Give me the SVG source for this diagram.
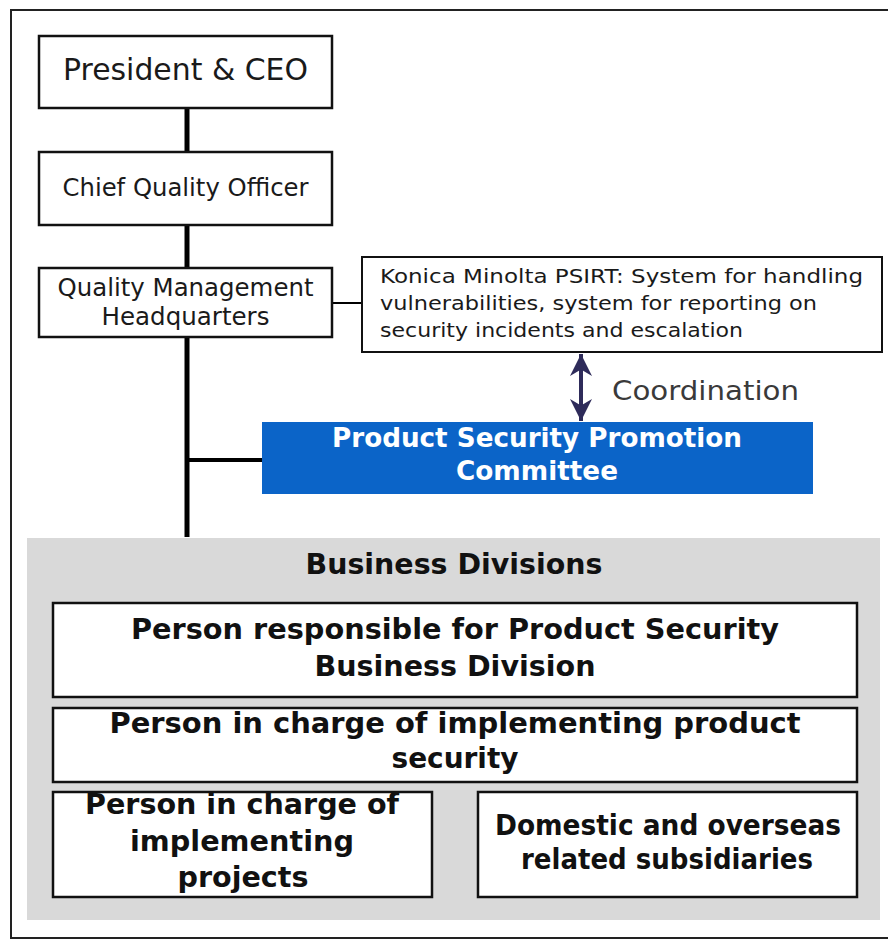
<svg xmlns="http://www.w3.org/2000/svg" width="888" height="940" viewBox="0 0 888 940">
  <defs>
    <style>
      .box { fill: #ffffff; stroke: #111111; stroke-width: 2.5; }
      .thin { fill: #ffffff; stroke: #111111; stroke-width: 2; }
      .t { font-family: "DejaVu Sans", Verdana, sans-serif; fill: #1a1a1a; text-anchor: middle; }
      .tl { font-family: "DejaVu Sans", Verdana, sans-serif; fill: #1a1a1a; font-size: 20px; }
      .b { font-family: "DejaVu Sans", Verdana, sans-serif; font-weight: bold; fill: #111111; text-anchor: middle; font-size: 27.5px; }
      .w { font-family: "DejaVu Sans", Verdana, sans-serif; font-weight: bold; fill: #ffffff; text-anchor: middle; font-size: 26.5px; }
      .line { stroke: #000000; fill: none; }
    </style>
    <marker id="ah" viewBox="0 0 10 10" refX="10" refY="5" markerWidth="5.5" markerHeight="5.5" orient="auto-start-reverse" markerUnits="strokeWidth">
      <path d="M0,0 L10,5 L0,10 L3,5 Z" fill="#2e2b5a"/>
    </marker>
  </defs>

  <rect x="0" y="0" width="888" height="940" fill="#ffffff"/>

  <!-- outer frame -->
  <path d="M888,10 L11,10 L11,938 L888,938" fill="none" stroke="#222222" stroke-width="2"/>

  <!-- Business divisions panel background -->
  <g id="business-divisions">
    <rect x="27" y="538" width="853" height="382" fill="#d9d9d9"/>
    <text class="b" x="454" y="574" font-size="28" textLength="297" lengthAdjust="spacingAndGlyphs">Business Divisions</text>
  </g>

  <g id="connectors">
    <line class="line" x1="187" y1="108" x2="187" y2="152" stroke-width="5"/>
    <line class="line" x1="187" y1="225" x2="187" y2="268" stroke-width="5"/>
    <line class="line" x1="187" y1="337" x2="187" y2="537" stroke-width="5"/>
    <line class="line" x1="187" y1="460" x2="262" y2="460" stroke-width="4"/>
    <line class="line" x1="332" y1="303" x2="362" y2="303" stroke-width="2"/>
    <line x1="581" y1="354" x2="581" y2="421" stroke="#2e2b5a" stroke-width="4" marker-start="url(#ah)" marker-end="url(#ah)"/>
    <text x="612" y="400" font-family="DejaVu Sans, Verdana, sans-serif" font-size="26" fill="#3a3a3a" textLength="187" lengthAdjust="spacingAndGlyphs">Coordination</text>
  </g>

  <g id="president">
    <rect class="box" x="39" y="36" width="293" height="72"/>
    <text class="t" x="185.5" y="80" font-size="30" textLength="245" lengthAdjust="spacingAndGlyphs">President &amp; CEO</text>
  </g>

  <g id="cqo">
    <rect class="box" x="39" y="152" width="293" height="73"/>
    <text class="t" x="185.5" y="196" font-size="25" textLength="246" lengthAdjust="spacingAndGlyphs">Chief Quality Officer</text>
  </g>

  <g id="qmh">
    <rect class="box" x="39" y="268" width="293" height="69"/>
    <text class="t" x="185.5" y="296" font-size="25" textLength="256" lengthAdjust="spacingAndGlyphs">Quality Management</text>
    <text class="t" x="185.5" y="325" font-size="25" textLength="168" lengthAdjust="spacingAndGlyphs">Headquarters</text>
  </g>

  <g id="psirt">
    <rect class="thin" x="362" y="257" width="520" height="95"/>
    <text class="tl" x="380" y="283" textLength="483" lengthAdjust="spacingAndGlyphs">Konica Minolta PSIRT: System for handling</text>
    <text class="tl" x="380" y="310" textLength="437" lengthAdjust="spacingAndGlyphs">vulnerabilities, system for reporting on</text>
    <text class="tl" x="380" y="337" textLength="363" lengthAdjust="spacingAndGlyphs">security incidents and escalation</text>
  </g>

  <g id="pspc">
    <rect x="262" y="422" width="551" height="72" fill="#0b64c8"/>
    <text class="w" x="537" y="447" textLength="410" lengthAdjust="spacingAndGlyphs">Product Security Promotion</text>
    <text class="w" x="537" y="480" textLength="162" lengthAdjust="spacingAndGlyphs">Committee</text>
  </g>

  <g id="responsible">
    <rect class="box" x="53" y="603" width="804" height="94"/>
    <text class="b" x="455" y="639" textLength="648" lengthAdjust="spacingAndGlyphs">Person responsible for Product Security</text>
    <text class="b" x="455" y="676" textLength="281" lengthAdjust="spacingAndGlyphs">Business Division</text>
  </g>

  <g id="implementing-security">
    <rect class="box" x="53" y="708" width="804" height="74"/>
    <text class="b" x="455" y="733" textLength="691" lengthAdjust="spacingAndGlyphs">Person in charge of implementing product</text>
    <text class="b" x="455" y="768" textLength="127" lengthAdjust="spacingAndGlyphs">security</text>
  </g>

  <g id="implementing-projects">
    <rect class="box" x="53" y="792" width="379" height="105"/>
    <text class="b" x="242" y="814" textLength="314" lengthAdjust="spacingAndGlyphs">Person in charge of</text>
    <text class="b" x="242" y="851" textLength="224" lengthAdjust="spacingAndGlyphs">implementing</text>
    <text class="b" x="243" y="887" textLength="131" lengthAdjust="spacingAndGlyphs">projects</text>
  </g>

  <g id="subsidiaries">
    <rect class="box" x="478" y="792" width="379" height="105"/>
    <text class="b" x="668" y="835" textLength="346" lengthAdjust="spacingAndGlyphs">Domestic and overseas</text>
    <text class="b" x="667" y="869" textLength="292" lengthAdjust="spacingAndGlyphs">related subsidiaries</text>
  </g>
</svg>
